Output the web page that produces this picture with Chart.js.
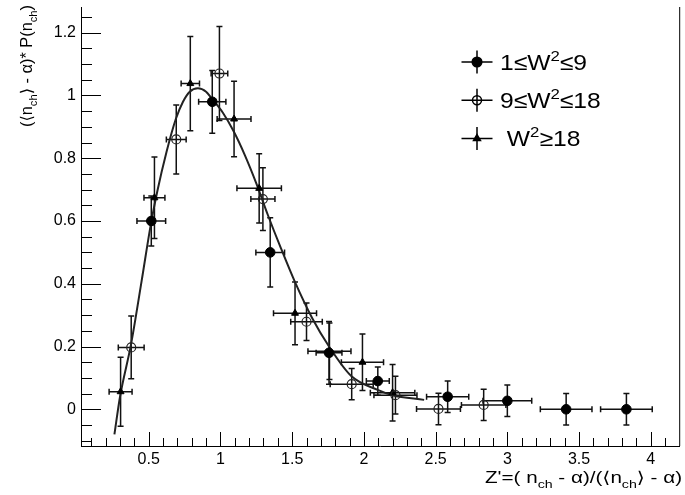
<!DOCTYPE html>
<html lang="en">
<head>
    <meta charset="UTF-8">
    <title>Scaled multiplicity distribution</title>
    <script src="https://cdn.jsdelivr.net/npm/chart.js@4.4.0/dist/chart.umd.min.js"></script>
    <style>
        body { margin: 0; background: #fff; }
        #wrap { width: 685px; height: 495px; }
    </style>
</head>
<body>
    <div id="wrap"><canvas id="chart" width="685" height="495"></canvas></div>
    <script>
        // 1 <= W^2 <= 9 (filled circles)
        const lowX  = [0.518, 0.943, 1.347, 1.757, 2.097, 2.584, 3.0, 3.41, 3.83];
        const lowY  = [0.60, 0.98, 0.50, 0.18, 0.09, 0.04, 0.027, 0.0, 0.0];
        const lowEX = [0.10, 0.095, 0.10, 0.09, 0.08, 0.147, 0.17, 0.18, 0.18];
        const lowEY = [0.08, 0.10, 0.11, 0.10, 0.045, 0.05, 0.05, 0.05, 0.05];

        // 9 <= W^2 <= 18 (open circles)
        const midX  = [0.378, 0.692, 0.993, 1.296, 1.60, 1.915, 2.22, 2.52, 2.835];
        const midY  = [0.197, 0.86, 1.07, 0.67, 0.279, 0.08, 0.045, 0.001, 0.014];
        const midEX = [0.09, 0.069, 0.058, 0.084, 0.11, 0.15, 0.15, 0.153, 0.155];
        const midEY = [0.10, 0.11, 0.15, 0.10, 0.06, 0.05, 0.06, 0.05, 0.05];

        // W^2 >= 18 (triangles)
        const highX  = [0.304, 0.54, 0.79, 1.095, 1.27, 1.52, 1.76, 1.99, 2.2];
        const highY  = [0.056, 0.674, 1.038, 0.925, 0.704, 0.306, 0.185, 0.15, 0.053];
        const highEX = [0.08, 0.073, 0.064, 0.118, 0.155, 0.15, 0.15, 0.147, 0.155];
        const highEY = [0.11, 0.13, 0.15, 0.12, 0.11, 0.10, 0.09, 0.09, 0.09];

        // fitted curve
        const curveX = [0.261, 0.30, 0.378, 0.451, 0.515, 0.56, 0.624, 0.689, 0.739, 0.786, 0.843, 0.90,
                        0.94, 1.017, 1.093, 1.17, 1.25, 1.33, 1.42, 1.52, 1.64, 1.757, 1.914, 2.096, 2.2, 2.42];
        const curveY = [-0.08, 0.04, 0.21, 0.41, 0.59, 0.695, 0.82, 0.925, 0.98, 1.012, 1.023, 1.012,
                        0.99, 0.945, 0.885, 0.81, 0.72, 0.62, 0.515, 0.405, 0.29, 0.20, 0.105, 0.062, 0.045, 0.03];

        const xTicks = [0.5, 1, 1.5, 2, 2.5, 3, 3.5, 4];
        const xTickLabels = ['0.5', '1', '1.5', '2', '2.5', '3', '3.5', '4'];
        const yTicks = [0, 0.2, 0.4, 0.6, 0.8, 1, 1.2];
        const yTickLabels = ['0', '0.2', '0.4', '0.6', '0.8', '1', '1.2'];

        const seriesNames = ['1≤W²≤9', '9≤W²≤18', ' W²≥18'];

        const FONT = '"Liberation Sans", Arial, "DejaVu Sans", sans-serif';

        function points(xs, ys) {
            return xs.map((x, i) => ({ x: x, y: ys[i] }));
        }

        // draw a run of text segments (plain / sub / sup), squeezed to a target width
        function drawRich(ctx, segs, size, width) {
            const parts = segs.map(s => {
                const f = (s.sub || s.sup) ? Math.round(size * 0.68) : size;
                ctx.font = f + 'px ' + FONT;
                return { t: s.t, f: f, dy: s.sub ? size * 0.32 : (s.sup ? -size * 0.4 : 0), w: ctx.measureText(s.t).width };
            });
            const total = parts.reduce((a, p) => a + p.w, 0);
            const sx = width ? width / total : 1;
            ctx.save();
            ctx.scale(sx, 1);
            let x = 0;
            parts.forEach(p => {
                ctx.font = p.f + 'px ' + FONT;
                ctx.fillText(p.t, x, p.dy);
                x += p.w;
            });
            ctx.restore();
            return total * sx;
        }

        function splitSup(text) {
            const segs = [];
            text.split('²').forEach((t, i) => {
                if (i > 0) segs.push({ t: '2', sup: true });
                if (t) segs.push({ t: t });
            });
            return segs;
        }

        const rootStyle = {
            id: 'rootStyle',
            beforeDatasetsDraw(chart) {
                const ctx = chart.ctx, sx = chart.scales.x, sy = chart.scales.y;
                ctx.save();
                ctx.strokeStyle = '#111';
                ctx.lineWidth = 1.5;
                chart.data.datasets.forEach(ds => {
                    if (!ds.errX) return;
                    ds.data.forEach((p, i) => {
                        const px = sx.getPixelForValue(p.x), py = sy.getPixelForValue(p.y);
                        const x0 = sx.getPixelForValue(p.x - ds.errX[i]), x1 = sx.getPixelForValue(p.x + ds.errX[i]);
                        const y0 = sy.getPixelForValue(p.y - ds.errY[i]), y1 = sy.getPixelForValue(p.y + ds.errY[i]);
                        ctx.beginPath();
                        ctx.moveTo(x0, py); ctx.lineTo(x1, py);
                        ctx.moveTo(px, y0); ctx.lineTo(px, y1);
                        ctx.moveTo(x0, py - 3); ctx.lineTo(x0, py + 3);
                        ctx.moveTo(x1, py - 3); ctx.lineTo(x1, py + 3);
                        ctx.moveTo(px - 3, y0); ctx.lineTo(px + 3, y0);
                        ctx.moveTo(px - 3, y1); ctx.lineTo(px + 3, y1);
                        ctx.stroke();
                    });
                });
                ctx.restore();
            },
            afterDraw(chart) {
                const ctx = chart.ctx, sx = chart.scales.x, sy = chart.scales.y;
                const a = chart.chartArea;
                ctx.save();
                ctx.strokeStyle = '#000';
                ctx.lineWidth = 1;

                // inward ticks
                ctx.beginPath();
                for (let k = 1; k <= 41; k++) {
                    const px = Math.round(sx.getPixelForValue(k / 10)) + 0.5;
                    if (px > a.right) break;
                    const len = k % 5 === 0 ? 14 : 8;
                    ctx.moveTo(px, a.bottom); ctx.lineTo(px, a.bottom - len);
                }
                for (let k = -2; k <= 25; k++) {
                    const py = Math.round(sy.getPixelForValue(k * 0.05)) + 0.5;
                    const len = k % 4 === 0 ? 20 : 11;
                    ctx.moveTo(a.left, py); ctx.lineTo(a.left + len, py);
                }
                // right frame edge
                ctx.moveTo(a.right + 0.5, a.top); ctx.lineTo(a.right + 0.5, a.bottom);
                ctx.stroke();

                // legend
                const styles = [
                    { pointStyle: 'circle', radius: 4.8, fill: '#000' },
                    { pointStyle: 'circle', radius: 4.5, fill: 'rgba(0,0,0,0)' },
                    { pointStyle: 'triangle', radius: 4, fill: '#000' }
                ];
                ctx.lineWidth = 1.5;
                seriesNames.forEach((name, i) => {
                    const cx = 477, cy = 62 + i * 38.3;
                    ctx.strokeStyle = '#000';
                    ctx.beginPath();
                    ctx.moveTo(cx - 15.5, cy); ctx.lineTo(cx + 15.5, cy);
                    ctx.moveTo(cx, cy - 11.5); ctx.lineTo(cx, cy + 11.5);
                    ctx.stroke();
                    ctx.fillStyle = styles[i].fill;
                    Chart.helpers.drawPoint(ctx, { pointStyle: styles[i].pointStyle, radius: styles[i].radius, rotation: 0, borderWidth: 1.2 }, cx, cy);
                    ctx.save();
                    ctx.fillStyle = '#000';
                    ctx.textBaseline = 'alphabetic';
                    ctx.translate(500, cy + 7.5);
                    ctx.scale(1.12, 1);
                    drawRich(ctx, splitSup(name), 22, 0);
                    ctx.restore();
                });

                // axis titles
                ctx.fillStyle = '#000';
                ctx.textBaseline = 'alphabetic';
                const xt = [{ t: "Z'=( n" }, { t: 'ch', sub: true }, { t: ' - α)/(⟨n' }, { t: 'ch', sub: true }, { t: '⟩ - α)' }];
                ctx.save();
                ctx.translate(682 - 197, 483);
                drawRich(ctx, xt, 16, 197);
                ctx.restore();

                const yt = [{ t: '(⟨n' }, { t: 'ch', sub: true }, { t: '⟩ - α)* P(n' }, { t: 'ch', sub: true }, { t: ')' }];
                ctx.save();
                ctx.translate(32, 5);
                ctx.rotate(-Math.PI / 2);
                ctx.translate(-122, 0);
                drawRich(ctx, yt, 16, 122);
                ctx.restore();

                ctx.restore();
            }
        };

        const ctx = document.getElementById('chart').getContext('2d');
        new Chart(ctx, {
            type: 'scatter',
            data: {
                datasets: [
                    {
                        label: seriesNames[0],
                        data: points(lowX, lowY),
                        errX: lowEX, errY: lowEY,
                        pointStyle: 'circle', pointRadius: 4.8,
                        backgroundColor: '#000', borderColor: '#000', borderWidth: 1
                    },
                    {
                        label: seriesNames[1],
                        data: points(midX, midY),
                        errX: midEX, errY: midEY,
                        pointStyle: 'circle', pointRadius: 4.5,
                        backgroundColor: 'rgba(0,0,0,0)', borderColor: '#222', borderWidth: 1.2
                    },
                    {
                        label: seriesNames[2],
                        data: points(highX, highY),
                        errX: highEX, errY: highEY,
                        pointStyle: 'triangle', pointRadius: 4,
                        backgroundColor: '#000', borderColor: '#000', borderWidth: 1
                    },
                    {
                        label: 'fit',
                        data: points(curveX, curveY),
                        showLine: true,
                        cubicInterpolationMode: 'monotone',
                        pointRadius: 0,
                        borderColor: '#222',
                        borderWidth: 2
                    }
                ]
            },
            options: {
                responsive: false,
                animation: false,
                devicePixelRatio: 1,
                layout: { padding: { left: 0, right: 3, top: 7, bottom: 0 } },
                plugins: {
                    legend: { display: false },
                    tooltip: { enabled: false }
                },
                scales: {
                    x: {
                        type: 'linear',
                        min: 0.028,
                        max: 4.198,
                        afterFit: s => { s.height = 49; s.paddingLeft = 0; s.paddingRight = 0; },
                        afterBuildTicks: s => { s.ticks = xTicks.map(v => ({ value: v })); },
                        grid: { display: false, drawTicks: false },
                        border: { display: true, color: '#000', width: 1 },
                        ticks: {
                            padding: 4,
                            color: '#000',
                            font: { family: FONT, size: 16 },
                            maxRotation: 0,
                            autoSkip: false,
                            callback: (v, i) => xTickLabels[i]
                        }
                    },
                    y: {
                        type: 'linear',
                        min: -0.117,
                        max: 1.282,
                        afterFit: s => { s.width = 81; s.paddingTop = 0; s.paddingBottom = 0; },
                        afterBuildTicks: s => { s.ticks = yTicks.map(v => ({ value: v })); },
                        grid: { display: false, drawTicks: false },
                        border: { display: true, color: '#000', width: 1 },
                        ticks: {
                            padding: 5,
                            color: '#000',
                            font: { family: FONT, size: 16 },
                            autoSkip: false,
                            callback: (v, i) => yTickLabels[i]
                        }
                    }
                }
            },
            plugins: [rootStyle]
        });
    </script>
</body>
</html>
